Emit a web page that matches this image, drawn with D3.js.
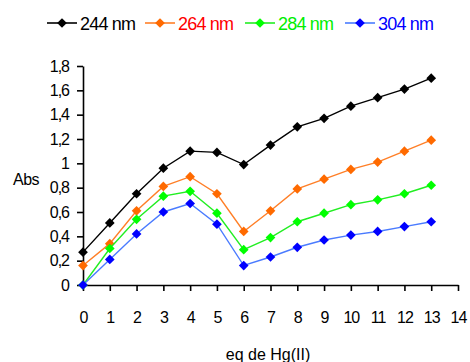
<!DOCTYPE html>
<html lang="en">
<head>
  <meta charset="UTF-8">
  <script src="https://cdn.jsdelivr.net/npm/d3@7"></script>
  <title>Abs vs eq de Hg(II)</title>
  <style>
    body { margin: 0; background: #fff; }
    text { font-family: "Liberation Sans", Arial, sans-serif; }
  </style>
</head>
<body>
  <svg width="470" height="362" id="chart"></svg>
  <script>
    // data
    let eq = [0, 1, 2, 3, 4, 5, 6, 7, 8, 9, 10, 11, 12, 13];
    let seriesNames = ["244 nm", "264 nm", "284 nm", "304 nm"];
    let abs244 = [0.27, 0.51, 0.75, 0.96, 1.10, 1.09, 0.99, 1.15, 1.30, 1.37, 1.47, 1.54, 1.61, 1.70];
    let abs264 = [0.16, 0.34, 0.61, 0.81, 0.89, 0.75, 0.44, 0.61, 0.79, 0.87, 0.95, 1.01, 1.10, 1.19];
    let abs284 = [0.00, 0.30, 0.54, 0.73, 0.77, 0.59, 0.29, 0.39, 0.52, 0.59, 0.66, 0.70, 0.75, 0.82];
    let abs304 = [0.00, 0.21, 0.42, 0.60, 0.67, 0.50, 0.16, 0.23, 0.31, 0.37, 0.41, 0.44, 0.48, 0.52];
    let xTicks = [0, 1, 2, 3, 4, 5, 6, 7, 8, 9, 10, 11, 12, 13, 14];
    let yTicks = [0, 0.2, 0.4, 0.6, 0.8, 1, 1.2, 1.4, 1.6, 1.8];

    let lineColors = ["#000000", "#ff7f27", "#22ee22", "#4a7bff"];
    let markColors = ["#000000", "#ff6a00", "#00ff00", "#0000ff"];
    let textColors = ["#000000", "#ff0000", "#00ee00", "#0000ff"];

    let allSeries = [abs244, abs264, abs284, abs304];

    let svg = d3.select("#chart");

    let scaleX = d3.scaleLinear().domain([0, 14]).range([83, 458]);
    let scaleY = d3.scaleLinear().domain([0, 1.8]).range([285, 66]);

    // axes
    let xAxis = d3.axisBottom(scaleX).tickValues(xTicks).tickSize(6).tickSizeOuter(0).tickPadding(21);
    let yAxis = d3.axisLeft(scaleY).tickValues(yTicks).tickSize(6).tickSizeOuter(0).tickPadding(8)
      .tickFormat(d => String(d).replace(".", ","));

    let gx = svg.append("g").attr("transform", "translate(0,285)").call(xAxis);
    let gy = svg.append("g").attr("transform", "translate(83,0)").call(yAxis);

    [gx, gy].forEach(g => {
      g.selectAll("path, line").attr("stroke", "#000").attr("stroke-width", 1.6);
      g.selectAll("text")
        .style("font-family", "'Liberation Sans', Arial, sans-serif")
        .style("font-size", "16px")
        .style("letter-spacing", "-1px")
        .attr("fill", "#000");
    });

    // axis titles
    svg.append("text")
      .text("Abs")
      .attr("x", 13).attr("y", 185)
      .style("font-size", "16px")
      .style("letter-spacing", "-0.5px");

    svg.append("text")
      .text("eq de Hg(II)")
      .attr("x", 268).attr("y", 360)
      .attr("text-anchor", "middle")
      .style("font-size", "16px");

    // lines + markers
    let line = d3.line()
      .x((d, i) => scaleX(eq[i]))
      .y(d => scaleY(d));

    let diamond = d3.symbol().type(d3.symbolDiamond2).size(60);

    allSeries.forEach((vals, s) => {
      svg.append("path")
        .datum(vals)
        .attr("d", line)
        .attr("fill", "none")
        .attr("stroke", lineColors[s])
        .attr("stroke-width", 1.4);

      svg.selectAll(".m" + s)
        .data(vals)
        .enter()
        .append("path")
        .attr("class", "m" + s)
        .attr("d", diamond)
        .attr("transform", (d, i) => "translate(" + scaleX(eq[i]) + "," + scaleY(d) + ")")
        .attr("fill", markColors[s]);
    });

    // legend
    let legendX = [47, 145, 245, 345];
    seriesNames.forEach((name, s) => {
      let g = svg.append("g").attr("transform", "translate(" + legendX[s] + ",23)");
      g.append("line")
        .attr("x1", 0).attr("x2", 30)
        .attr("stroke", lineColors[s]).attr("stroke-width", 1.6);
      g.append("path")
        .attr("d", diamond)
        .attr("transform", "translate(15,0)")
        .attr("fill", markColors[s]);
      g.append("text")
        .text(name)
        .attr("x", 33).attr("y", 7)
        .attr("fill", textColors[s])
        .style("font-size", "18px")
        .style("letter-spacing", "-0.8px");
    });
  </script>
</body>
</html>
